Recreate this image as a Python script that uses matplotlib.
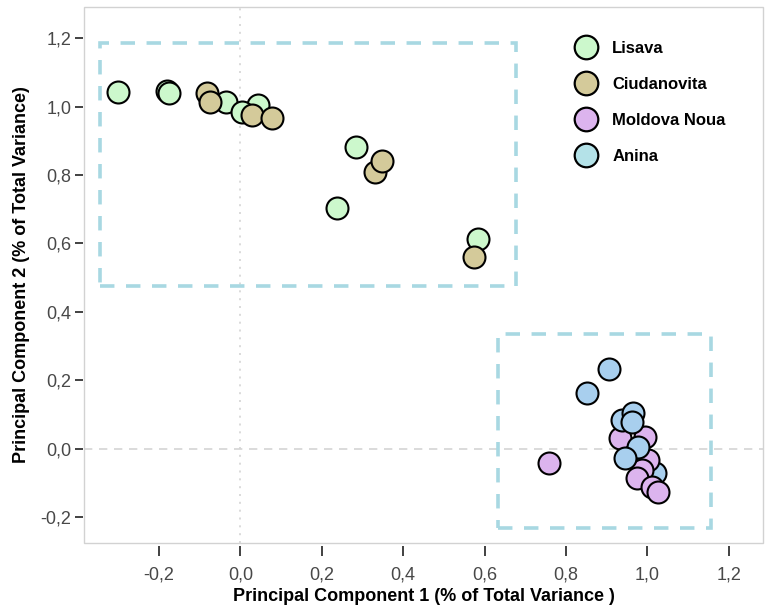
import matplotlib.pyplot as plt
from matplotlib.lines import Line2D
from matplotlib.patches import Rectangle
from matplotlib.ticker import FuncFormatter

# PCA loadings per site
lisava_pc1 = [-0.300, -0.180, -0.175, -0.034, 0.044, 0.003, 0.284, 0.237, 0.583]
lisava_pc2 = [1.044, 1.045, 1.040, 1.014, 1.005, 0.985, 0.881, 0.704, 0.612]

ciudanovita_pc1 = [-0.083, -0.075, 0.028, 0.077, 0.331, 0.347, 0.575]
ciudanovita_pc2 = [1.039, 1.014, 0.975, 0.966, 0.808, 0.842, 0.561]

anina_pc1 = [0.906, 0.851, 0.937, 0.964, 0.961, 0.978, 0.945, 1.019]
anina_pc2 = [0.232, 0.163, 0.084, 0.105, 0.079, 0.006, -0.028, -0.072]
anina_behind = [7]  # hidden under the Moldova Noua cluster

moldova_pc1 = [0.758, 0.933, 0.994, 1.002, 0.986, 0.974, 1.011, 1.027]
moldova_pc2 = [-0.042, 0.030, 0.035, -0.033, -0.063, -0.087, -0.111, -0.126]

sites = ["Lisava", "Ciudanovita", "Moldova Noua", "Anina"]
site_colors = ["#ccf8cc", "#d4ca9a", "#dcb4ee", "#b4e2e8"]
anina_point_color = "#a8cfee"

# dashed group outlines: (x0, x1, y0, y1)
group_boxes = [(-0.344, 0.676, 0.476, 1.185), (0.632, 1.156, -0.231, 0.336)]

plt.rcParams["font.family"] = ["Liberation Sans", "DejaVu Sans"]

fig = plt.figure(figsize=(7.65, 6.10), dpi=100, facecolor="white")
ax = fig.add_axes([0.1098, 0.1098, 0.8876, 0.8787])
ax.set_xlim(-0.384, 1.284)
ax.set_ylim(-0.276, 1.291)

# reference lines through the origin
ax.axvline(0, color="#d4d4d4", lw=1.2, ls=(0, (1.2, 3.5)), zorder=0)
ax.axhline(0, color="#d4d4d4", lw=1.2, ls=(0, (5, 4)), zorder=0)

for x0, x1, y0, y1 in group_boxes:
    ax.add_patch(Rectangle((x0, y0), x1 - x0, y1 - y0, fill=False,
                           edgecolor="#a8d8e2", lw=2.6, ls=(0, (4, 3.2)), zorder=1))

kw = dict(s=250, edgecolors="black", linewidths=1.5, zorder=3)
ax.scatter(lisava_pc1, lisava_pc2, c=site_colors[0], **kw)
ax.scatter(ciudanovita_pc1, ciudanovita_pc2, c=site_colors[1], **kw)
back = [i for i in range(len(anina_pc1)) if i in anina_behind]
front = [i for i in range(len(anina_pc1)) if i not in anina_behind]
ax.scatter([anina_pc1[i] for i in back], [anina_pc2[i] for i in back],
           c=anina_point_color, **kw)
ax.scatter(moldova_pc1, moldova_pc2, c=site_colors[2], **kw)
ax.scatter([anina_pc1[i] for i in front], [anina_pc2[i] for i in front],
           c=anina_point_color, **kw)

handles = [
    Line2D([], [], ls="", marker="o", ms=17, mfc=fc, mec="black", mew=1.6, label=lab)
    for fc, lab in zip(site_colors, sites)
]
ax.legend(handles=handles, loc="upper left", bbox_to_anchor=(0.692, 0.965),
          frameon=False, handletextpad=0.6, labelspacing=1.26,
          prop={"weight": "bold", "size": 12})

# frame drawn separately so the ticks can sit slightly away from it
for sp in ax.spines.values():
    sp.set_visible(False)
ax.spines["bottom"].set_position(("outward", 2))
ax.spines["left"].set_position(("outward", 1))
ax.add_patch(Rectangle((0, 0), 1, 1, transform=ax.transAxes, fill=False,
                       edgecolor="#d2d2d2", lw=1.0, zorder=0.5, clip_on=False))

ax.set_xticks([-0.2, 0.0, 0.2, 0.4, 0.6, 0.8, 1.0, 1.2])
ax.set_yticks([-0.2, 0.0, 0.2, 0.4, 0.6, 0.8, 1.0, 1.2])
comma = FuncFormatter(lambda v, p: f"{v:.1f}".replace(".", ",").replace("-0,0", "0,0"))
ax.xaxis.set_major_formatter(comma)
ax.yaxis.set_major_formatter(comma)
ax.tick_params(direction="out", length=7, width=1.3, color="#333333",
               labelsize=13, labelcolor="#484848")
ax.tick_params(axis="x", pad=8)
ax.tick_params(axis="y", length=6, pad=2)

ax.set_xlabel("Principal Component 1 (% of Total Variance )", fontsize=13,
              fontweight="bold", labelpad=3)
ax.set_ylabel("Principal Component 2 (% of Total Variance)", fontsize=13,
              fontweight="bold", labelpad=8)

fig.savefig("out.png", dpi=100, facecolor="white")
